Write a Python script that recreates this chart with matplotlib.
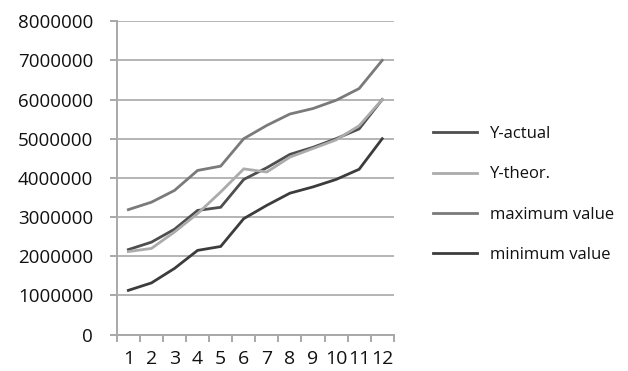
import numpy as np
import matplotlib.pyplot as plt

plt.rcParams['font.family'] = ['Open Sans', 'DejaVu Sans']

months = list(range(1, 13))
y_actual = [2170000, 2360000, 2690000, 3170000, 3250000, 3960000, 4260000, 4600000, 4780000, 5000000, 5250000, 6000000]
y_theor = [2120000, 2200000, 2620000, 3090000, 3640000, 4230000, 4150000, 4530000, 4750000, 4970000, 5330000, 6000000]
max_value = [3190000, 3380000, 3680000, 4190000, 4300000, 5000000, 5340000, 5630000, 5770000, 5980000, 6280000, 7000000]
min_value = [1130000, 1320000, 1690000, 2150000, 2250000, 2960000, 3300000, 3610000, 3770000, 3960000, 4220000, 5000000]

labels = ['Y-actual', 'Y-theor.', 'maximum value', 'minimum value']
colors = ['#4e4e4e', '#ababab', '#7a7a7a', '#3c3c3c']

fig = plt.figure(figsize=(6.28, 3.71), dpi=100)
ax = fig.add_axes([0.186, 0.098, 0.441, 0.845])

series = [y_actual, y_theor, max_value, min_value]
for vals, lab, col in zip(series, labels, colors):
    ax.plot(months, vals, color=col, lw=2.0, label=lab, solid_joinstyle='miter')

ax.set_xlim(0.5, 12.5)
ax.set_ylim(0, 8000000)
ax.set_yticks(np.arange(0, 8000001, 1000000))
ax.set_yticklabels([str(v) for v in range(0, 8000001, 1000000)])
ax.set_xticks(months)
ax.set_xticklabels([str(m) for m in months])
ax.set_xticks(np.arange(0.5, 13, 1), minor=True)

ax.grid(axis='y', color='#b4b4b4', lw=1.4)
ax.set_axisbelow(True)
for s in ['top', 'right']:
    ax.spines[s].set_visible(False)
for s in ['left', 'bottom']:
    ax.spines[s].set_color('#a8a8a8')
    ax.spines[s].set_linewidth(1.4)

ax.tick_params(axis='y', length=5, color='#a8a8a8', width=1.4, pad=12, labelsize=13.5, labelcolor='#111111')
ax.tick_params(axis='x', which='major', length=0, pad=11, labelsize=14, labelcolor='#111111')
ax.tick_params(axis='x', which='minor', length=5, color='#a8a8a8', width=1.4)

fig.legend(loc='upper left', bbox_to_anchor=(0.666, 0.7), frameon=False,
           fontsize=12, handlelength=2.65, handletextpad=0.75, labelspacing=1.45,
           labelcolor='#111111')

fig.savefig('out.png', dpi=100)
